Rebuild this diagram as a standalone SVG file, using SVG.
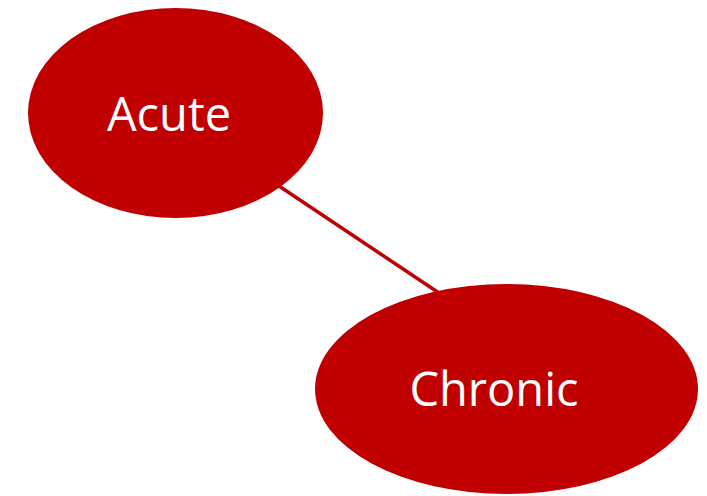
<svg xmlns="http://www.w3.org/2000/svg" width="707" height="496" viewBox="0 0 707 496">
<style>
.node{fill:#C00000}
.label{fill:#FFFFFF;font-family:"Open Sans","Liberation Sans",sans-serif;font-size:47px;text-anchor:middle}
.edge{stroke:#C00000;stroke-width:3.5;fill:none}
</style>
<rect width="707" height="496" fill="#FFFFFF"/>
<g id="connectors">
<line class="edge" x1="270" y1="180" x2="445" y2="297"/>
</g>
<g id="acute">
<ellipse class="node" cx="175.5" cy="113" rx="147.5" ry="105"/>
<text class="label" x="169" y="131">Acute</text>
</g>
<g id="chronic">
<ellipse class="node" cx="506.5" cy="389" rx="191.5" ry="105"/>
<text class="label" x="494" y="406">Chronic</text>
</g>
</svg>
